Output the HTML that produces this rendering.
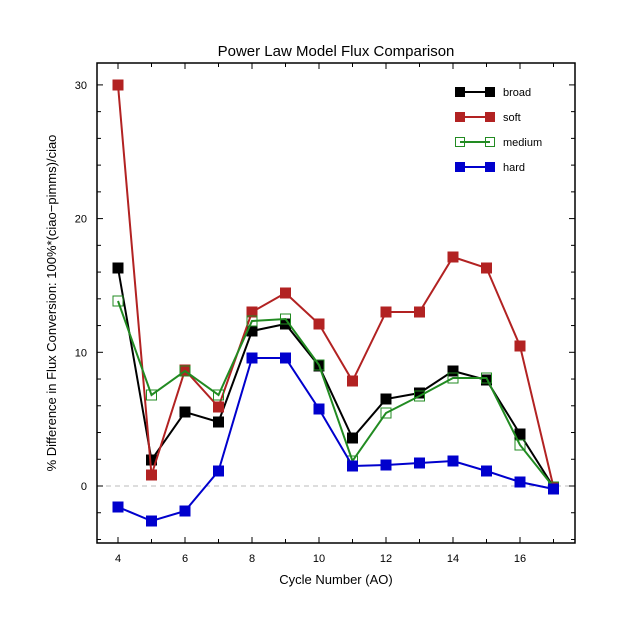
<!DOCTYPE html>
<html><head><meta charset="utf-8"><style>html,body{margin:0;padding:0;background:#fff}svg{display:block}</style></head>
<body>
<svg id="s" width="640" height="640" xmlns="http://www.w3.org/2000/svg" font-family="Liberation Sans, DejaVu Sans, sans-serif">
<rect width="640" height="640" fill="#fff"/>
<text x="336" y="56" font-size="15" text-anchor="middle">Power Law Model Flux Comparison</text>
<text x="336" y="584" font-size="13" text-anchor="middle">Cycle Number (AO)</text>
<text transform="translate(56,303) rotate(-90)" font-size="13" text-anchor="middle">% Difference in Flux Conversion: 100%*(ciao−pimms)/ciao</text>
<line x1="97" y1="486" x2="575" y2="486" stroke="#bbb" stroke-dasharray="5,4"/>
<g id="ax"></g>
<g id="data"></g>
<g font-size="11">
<line x1="460" y1="92" x2="490" y2="92" stroke="#000" stroke-width="2"/><rect x="455" y="87" width="10" height="10" fill="#000"/><rect x="485" y="87" width="10" height="10" fill="#000"/><text x="503" y="96">broad</text>
<line x1="460" y1="117" x2="490" y2="117" stroke="#b22222" stroke-width="2"/><rect x="455" y="112" width="10" height="10" fill="#b22222"/><rect x="485" y="112" width="10" height="10" fill="#b22222"/><text x="503" y="121">soft</text>
<line x1="460" y1="142" x2="490" y2="142" stroke="#228b22" stroke-width="2"/><rect x="455.5" y="137.5" width="9" height="9" fill="none" stroke="#228b22"/><rect x="485.5" y="137.5" width="9" height="9" fill="none" stroke="#228b22"/><text x="503" y="146">medium</text>
<line x1="460" y1="167" x2="490" y2="167" stroke="#0000cd" stroke-width="2"/><rect x="455" y="162" width="10" height="10" fill="#0000cd"/><rect x="485" y="162" width="10" height="10" fill="#0000cd"/><text x="503" y="171">hard</text>
</g>
</svg>
<script>
var NS="http://www.w3.org/2000/svg";
function el(p,t,a){var e=document.createElementNS(NS,t);for(var k in a)e.setAttribute(k,a[k]);p.appendChild(e);return e;}
var ax=document.getElementById('ax');
el(ax,'rect',{x:97,y:63,width:478,height:480,fill:'none',stroke:'#000','stroke-width':1.5});
function X(c){return 118+(c-4)*33.5;}
function Y(v){return 486-v*13.37;}
for(var c=4;c<=17;c++){var x=X(c),L=(c%2==0)?6:4;
el(ax,'line',{x1:x,y1:543,x2:x,y2:543-L,stroke:'#000'});el(ax,'line',{x1:x,y1:63,x2:x,y2:63+L,stroke:'#000'});
if(c%2==0){var t=el(ax,'text',{x:x,y:562,'font-size':11,'text-anchor':'middle'});t.textContent=c;}}
for(var v=-4;v<=30;v+=2){var y=Y(v),L=(v%10==0)?6:4;
el(ax,'line',{x1:97,y1:y,x2:97+L,y2:y,stroke:'#000'});el(ax,'line',{x1:575,y1:y,x2:575-L,y2:y,stroke:'#000'});
if(v%10==0){var t=el(ax,'text',{x:87,y:y+4,'font-size':11,'text-anchor':'end'});t.textContent=v;}}
var S=[
['#000',true,[268,460,412,422,331,324,366,438,399,393,371,380,434,487]],
['#b22222',true,[85,475,370,407,312,293,324,381,312,312,257,268,346,487]],
['#228b22',false,[301,395,371,395,321,319,365,461,413,396,378,378,445,487]],
['#0000cd',true,[507,521,511,471,358,358,409,466,465,463,461,471,482,489]]];
var d=document.getElementById('data');
S.forEach(function(s){var pts=s[2].map(function(y,i){return X(4+i)+','+y;}).join(' ');
el(d,'polyline',{points:pts,fill:'none',stroke:s[0],'stroke-width':2});
s[2].forEach(function(y,i){var x=X(4+i);
if(s[1])el(d,'rect',{x:x-5.5,y:y-5.5,width:11,height:11,fill:s[0]});
else el(d,'rect',{x:x-5,y:y-5,width:10,height:10,fill:'none',stroke:s[0]});});});
</script>
</body></html>
